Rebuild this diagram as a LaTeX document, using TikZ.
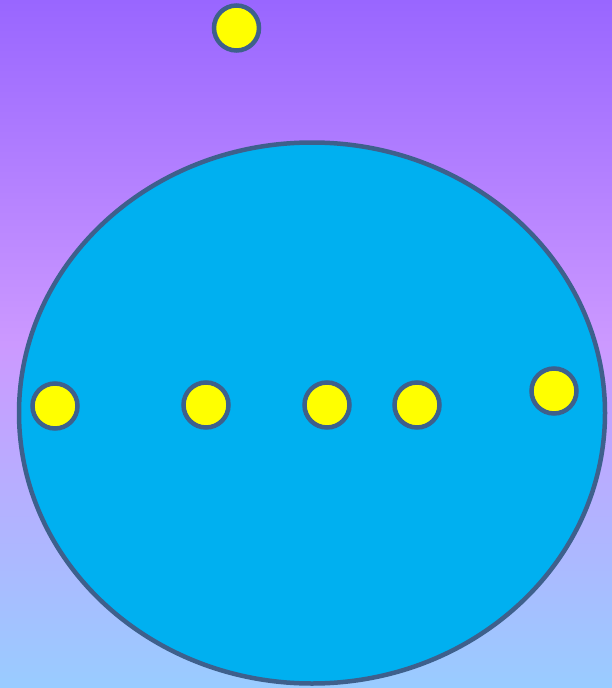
\documentclass[tikz,border=0pt]{standalone}
\usetikzlibrary{shapes.geometric}
\definecolor{edgeblue}{RGB}{62,96,140}
\definecolor{bigfill}{RGB}{0,176,240}
\definecolor{dotyellow}{RGB}{255,255,0}
\pgfdeclareverticalshading{bggrad}{100bp}{
  rgb(0bp)=(0.6,0.8,1);
  rgb(25bp)=(0.6,0.8,1);
  rgb(50bp)=(0.8,0.6,1);
  rgb(75bp)=(0.6,0.4,1);
  rgb(100bp)=(0.6,0.4,1)}
\tikzset{
  dot/.style={circle, draw=edgeblue, line width=4.5pt, fill=dotyellow, minimum size=45pt, inner sep=0pt},
  bigell/.style={ellipse, draw=edgeblue, line width=4.5pt, fill=bigfill, minimum width=586pt, minimum height=541pt, inner sep=0pt}
}
\begin{document}
\begin{tikzpicture}[x=1pt,y=-1pt]
\useasboundingbox (0,0) rectangle (612,688);
\shade[shading=bggrad] (0,0) rectangle (612,688);
\node[bigell] (big) at (312,413) {};
\node[dot] (d0) at (236.5,28) {};
\node[dot] (d1) at (55,406) {};
\node[dot] (d2) at (206,405) {};
\node[dot] (d3) at (327,405) {};
\node[dot] (d4) at (417,405) {};
\node[dot] (d5) at (554,391) {};
\end{tikzpicture}
\end{document}
